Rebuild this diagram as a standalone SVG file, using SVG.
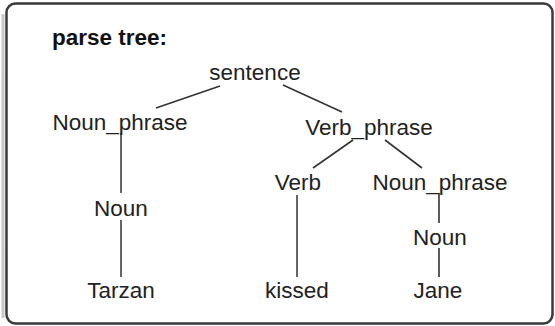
<svg xmlns="http://www.w3.org/2000/svg" width="555" height="326" viewBox="0 0 555 326">
  <style>
    .frame { fill: #ffffff; stroke: #3a3a3a; stroke-width: 2.5; }
    .shadow { fill: none; stroke: #c8c8c8; stroke-width: 3; }
    .title { font-family: "Liberation Sans", Arial, sans-serif; font-size: 22.5px; font-weight: bold; fill: #111; }
    .label { font-family: "Liberation Sans", Arial, sans-serif; font-size: 22.5px; fill: #222; text-anchor: middle; }
    .edge { stroke: #333; stroke-width: 1.6; fill: none; }
    .stem { stroke: #666; stroke-width: 2; fill: none; }
  </style>
  <rect x="0" y="0" width="555" height="326" fill="#ffffff"/>
  <!-- frame with a soft shadow on the left -->
  <path class="shadow" d="M3 14 V318"/>
  <rect class="frame" x="6.5" y="3.5" width="546" height="320" rx="9" ry="9"/>
  <text class="title" x="52" y="45">parse tree:</text>

  <g id="connectors">
    <line class="edge" x1="220" y1="86" x2="156" y2="108"/>
    <line class="edge" x1="283" y1="85" x2="342" y2="112"/>
    <line class="stem" x1="121" y1="133" x2="121" y2="193"/>
    <line class="stem" x1="121" y1="220" x2="121" y2="277"/>
    <line class="edge" x1="353" y1="140" x2="313" y2="168"/>
    <line class="edge" x1="385" y1="140" x2="422" y2="168"/>
    <line class="stem" x1="297" y1="195" x2="297" y2="277"/>
    <line class="edge" x1="439" y1="193" x2="439" y2="223"/>
    <line class="edge" x1="439" y1="248" x2="439" y2="277"/>
  </g>

  <g id="sentence"><text class="label" x="255" y="80">sentence</text></g>
  <g id="noun_phrase_1"><text class="label" x="120" y="130">Noun_phrase</text></g>
  <g id="verb_phrase"><text class="label" x="369" y="135">Verb_phrase</text></g>
  <g id="noun_1"><text class="label" x="121" y="216">Noun</text></g>
  <g id="verb"><text class="label" x="298" y="190">Verb</text></g>
  <g id="noun_phrase_2"><text class="label" x="440" y="190">Noun_phrase</text></g>
  <g id="noun_2"><text class="label" x="440" y="245">Noun</text></g>
  <g id="tarzan"><text class="label" x="121" y="298">Tarzan</text></g>
  <g id="kissed"><text class="label" x="297" y="298">kissed</text></g>
  <g id="jane"><text class="label" x="438" y="298">Jane</text></g>
</svg>
